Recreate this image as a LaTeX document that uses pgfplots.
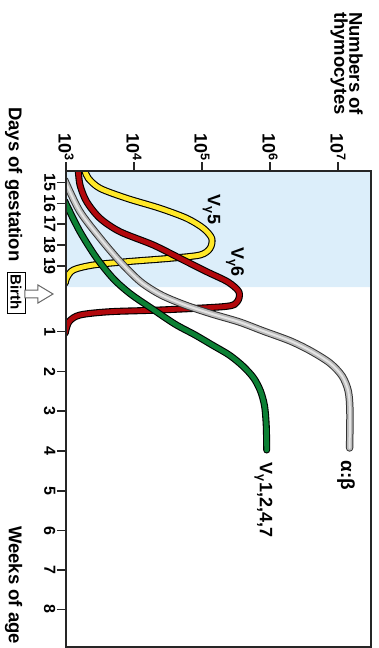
\documentclass[border=0pt]{standalone}
\usepackage{fontspec}
\setmainfont{Liberation Sans}
\usepackage{pgfplots}
\usepackage{pgfplotstable}
\pgfplotsset{compat=1.18}
\definecolor{bgblue}{RGB}{220,238,250}
\definecolor{cyel}{RGB}{255,232,40}
\definecolor{cred}{RGB}{178,8,12}
\definecolor{cgreen}{RGB}{12,128,52}
\definecolor{cgray}{RGB}{185,185,185}
\definecolor{cgrayl}{RGB}{228,228,228}

% L = log10(number of thymocytes), t = position on time axis (0 = top)
\pgfplotstableread{
L t
3.26 -3
3.279 0
3.328 7.3
3.500 17.3
3.893 27.3
4.382 37.3
4.775 47.3
5.019 57.3
5.143 67.3
5.118 77.3
4.971 84
4.529 87.3
3.893 90.7
3.401 94
3.107 99
3.01 107
2.99 112
}\yellowdata
\pgfplotstableread{
L t
3.178 -3
3.206 14
3.304 30.7
3.500 47.3
3.794 60.7
4.284 74
4.676 87.3
5.069 100.7
5.382 111
5.544 121
5.515 131
5.338 135.5
4.382 139
3.647 140.7
3.206 144
3.044 150.7
2.99 162
}\reddata
\pgfplotstableread{
L t
2.98 9
3.20 40
3.50 67
3.80 91
4.10 111
4.40 124
4.75 134
5.15 143
5.55 151
5.90 160
6.30 170
6.60 180
6.88 192
7.06 205
7.15 220
7.175 240
7.17 277
}\graydata
\pgfplotstableread{
L t
2.98 30
3.20 60
3.45 87
3.70 108
3.95 123
4.25 137
4.60 153
4.90 164
5.15 174
5.40 184
5.60 195
5.76 207
5.86 220
5.92 235
5.945 255
5.951 279
}\greendata

\begin{document}
\begin{tikzpicture}
\useasboundingbox (-66pt,-1pt) rectangle (313pt,647pt);
\begin{axis}[
  at={(0pt,0pt)}, anchor=south west,
  scale only axis, width=305pt, height=476pt,
  xmin=3, xmax=7.485, ymin=0, ymax=476, y dir=reverse,
  axis line style={line width=1.4pt, black!85},
  tick style={line width=1.4pt, black!85},
  major tick length=9pt,
  tick align=outside,
  xtick pos=right, xticklabel pos=right,
  ytick pos=left,
  xtick={3,4,5,6,7},
  xticklabels={10\textsuperscript{3},10\textsuperscript{4},10\textsuperscript{5},10\textsuperscript{6},10\textsuperscript{7}},
  ytick={11.3,32.3,53,74,95,160.7,200.7,240,280,320,359.7,399,438.3},
  yticklabels={15,16,17,18,19,1,2,3,4,5,6,7,8},
  xticklabel style={rotate=-90, anchor=east, inner sep=1pt, font=\bfseries\fontsize{18}{18}\selectfont},
  yticklabel style={rotate=-90, anchor=north, inner sep=1.5pt, font=\bfseries\fontsize{16}{16}\selectfont},
  axis on top,
  every axis plot/.append style={line cap=round, line join=round},
]
\addplot[draw=none, fill=bgblue] coordinates {(3,0) (7.5,0) (7.5,116) (3,116) (3,0)};

\addplot[black, line width=7pt, smooth] table[x=L,y=t] {\yellowdata};
\addplot[cyel, line width=4.8pt, smooth] table[x=L,y=t] {\yellowdata};

\addplot[black, line width=7pt, smooth] table[x=L,y=t] {\reddata};
\addplot[cred, line width=4.8pt, smooth] table[x=L,y=t] {\reddata};

\addplot[black!80, line width=7.4pt, smooth] table[x=L,y=t] {\graydata};
\addplot[cgray, line width=5.4pt, smooth] table[x=L,y=t] {\graydata};
\addplot[cgrayl, line width=2pt, smooth] table[x=L,y=t] {\graydata};

\addplot[black, line width=7pt, smooth] table[x=L,y=t] {\greendata};
\addplot[cgreen, line width=4.8pt, smooth] table[x=L,y=t] {\greendata};

\node[rotate=-90, font=\bfseries\fontsize{18}{18}\selectfont] at (axis cs:5.14,38.5) {V\textsubscript{γ}5};
\node[rotate=-90, font=\bfseries\fontsize{18}{18}\selectfont] at (axis cs:5.485,91) {V\textsubscript{γ}6};
\node[rotate=-90, font=\bfseries\fontsize{19}{19}\selectfont] at (axis cs:7.118,304.5) {α:β};
\node[rotate=-90, font=\bfseries\fontsize{18}{18}\selectfont] at (axis cs:5.904,329) {V\textsubscript{γ}1,2,4,7};
\end{axis}

\node[rotate=-90, anchor=north west, align=left, inner sep=0pt,
      font=\bfseries\fontsize{18.5}{15}\selectfont] at (297pt,635pt) {Numbers of\\thymocytes};
\node[rotate=-90, anchor=north west, inner sep=0pt,
      font=\bfseries\fontsize{18.5}{18.5}\selectfont] at (-43.5pt,540pt) {Days of gestation};
\node[rotate=-90, anchor=north west, inner sep=0pt,
      font=\bfseries\fontsize{18.5}{18.5}\selectfont] at (-43.5pt,121pt) {Weeks of age};

\draw[line width=0.8pt] (-59pt,334pt) rectangle (-41pt,375pt);
\node[rotate=-90, font=\bfseries\fontsize{15}{15}\selectfont] at (-50pt,354.5pt) {Birth};
\draw[line width=1pt, draw=black!60, fill=white]
  (-41pt,349.2pt) -- (-28pt,349.2pt) -- (-28pt,344pt) -- (-13pt,353pt)
  -- (-28pt,362pt) -- (-28pt,356.8pt) -- (-41pt,356.8pt) -- cycle;
\end{tikzpicture}
\end{document}
